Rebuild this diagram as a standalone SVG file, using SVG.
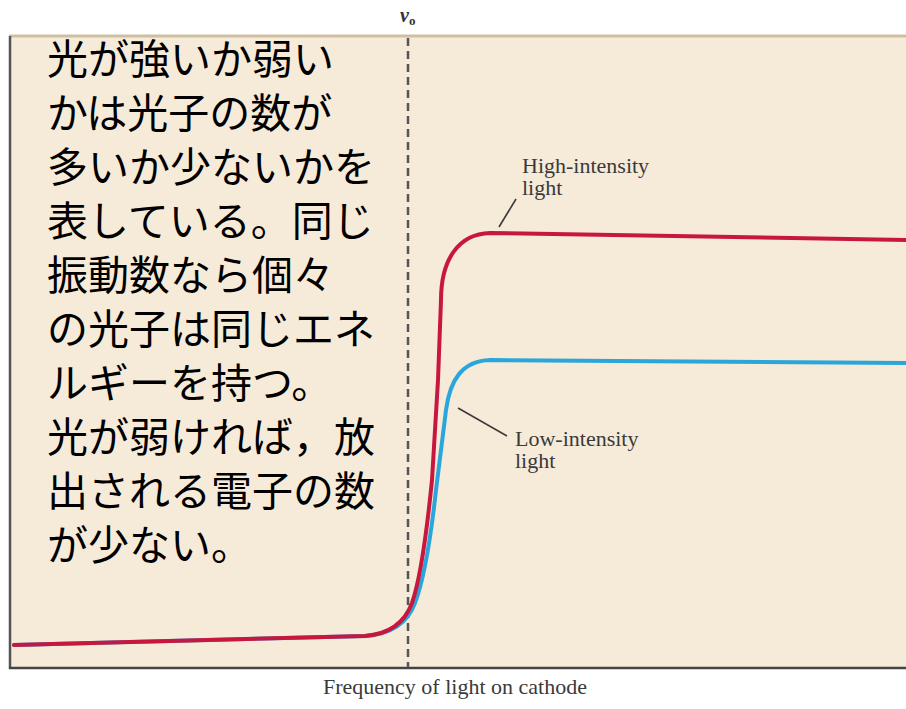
<svg xmlns="http://www.w3.org/2000/svg" width="906" height="709" viewBox="0 0 906 709">
<style>
.jp{font-family:"Noto Sans CJK JP","Noto Sans",sans-serif;font-size:41px;fill:#000}
.lbl{font-family:"Liberation Serif",serif;font-size:22px;fill:#3a3a3a}
.curve{fill:none;stroke-width:4;stroke-linecap:round;stroke-linejoin:round}
.lead{stroke:#3a3a3a;stroke-width:1.6;fill:none}
</style>
<rect x="0" y="0" width="906" height="709" fill="#ffffff"/>
<g id="frame">
<rect x="10" y="37" width="900" height="631" fill="#f6ead9"/>
<line x1="9" y1="36" x2="906" y2="36" stroke="#cfbfa2" stroke-width="3"/>
<line x1="10" y1="36" x2="10" y2="669" stroke="#555" stroke-width="2.5"/>
<line x1="9" y1="668" x2="906" y2="668" stroke="#444" stroke-width="2.5"/>
</g>
<g id="axis-label">
<text x="400" y="22" style="font-family:'Liberation Serif',serif;font-size:20px;font-style:italic;font-weight:bold;fill:#333">ν<tspan font-size="13" dy="3" font-style="normal">o</tspan></text>
<text class="lbl" x="323" y="694">Frequency of light on cathode</text>
</g>
<g id="threshold">
<line x1="408" y1="38" x2="408" y2="667" stroke="#555" stroke-width="2.5" stroke-dasharray="8 5"/>
</g>
<g id="connectors">
<path class="curve" stroke="#2aa6dc" d="M14,645 L365,636 C392,634 408,622 415,603 C423,582 430,545 436,490 L446,410 C450,380 462,361 490,360 L906,363"/>
<path class="curve" stroke="#c8173f" d="M14,645 L365,636 C390,634 405,622 412,603 C420,580 426,540 432,480 L438,380 L441,300 C441,260 458,234 490,233 L906,240"/>
<line class="lead" x1="516" y1="199" x2="499" y2="227"/>
<line class="lead" x1="458" y1="408" x2="507" y2="436"/>
</g>
<g id="high-label">
<text class="lbl" x="522" y="173">High-intensity</text>
<text class="lbl" x="522" y="195">light</text>
</g>
<g id="low-label">
<text class="lbl" x="515" y="446">Low-intensity</text>
<text class="lbl" x="515" y="468">light</text>
</g>
<g id="note">
<text class="jp" x="47" y="74">光が強いか弱い</text>
<text class="jp" x="47" y="128">かは光子の数が</text>
<text class="jp" x="47" y="182">多いか少ないかを</text>
<text class="jp" x="47" y="236">表している。同じ</text>
<text class="jp" x="47" y="290">振動数なら個々</text>
<text class="jp" x="47" y="344">の光子は同じエネ</text>
<text class="jp" x="47" y="398">ルギーを持つ。</text>
<text class="jp" x="47" y="452">光が弱ければ，放</text>
<text class="jp" x="47" y="506">出される電子の数</text>
<text class="jp" x="47" y="560">が少ない。</text>
</g>
</svg>
